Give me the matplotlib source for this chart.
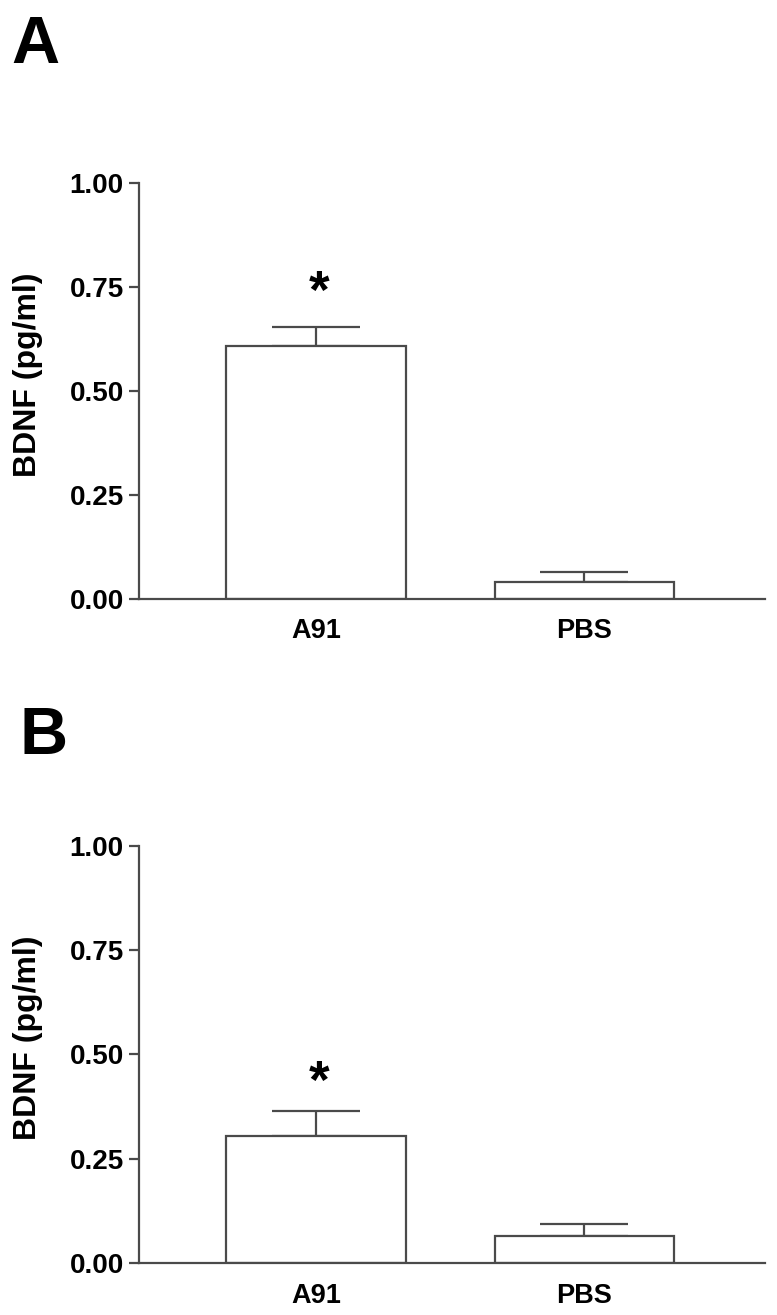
import numpy as np
import matplotlib.pyplot as plt

plt.rcParams['font.family'] = ['Liberation Sans', 'DejaVu Sans']
plt.rcParams['font.weight'] = 'bold'

groups = ['A91', 'PBS']
mean_a = [0.608, 0.040]
sem_a = [0.046, 0.024]
mean_b = [0.305, 0.065]
sem_b = [0.060, 0.029]
yticks = [0.00, 0.25, 0.50, 0.75, 1.00]
star_a = 0.733
star_b = 0.429

line_col = '#4a4a4a'

fig = plt.figure(figsize=(7.77, 13.15), dpi=100)
axA = fig.add_axes([0.1789, 0.5445, 0.8057, 0.3163])
axB = fig.add_axes([0.1789, 0.0395, 0.8057, 0.3172])


def panel(ax, means, sems, star_y):
    x = np.arange(len(groups))
    ax.bar(x, means, width=0.668, color='white', edgecolor=line_col, linewidth=1.6, zorder=2)
    ax.errorbar(x, means, yerr=[np.zeros(len(sems)), sems], fmt='none',
                ecolor=line_col, elinewidth=1.6, capsize=32, capthick=1.6, zorder=1)
    ax.text(0.01, star_y, '*', ha='center', va='center', fontsize=38, fontweight='bold')
    ax.set_xlim(-0.66, 1.675)
    ax.set_ylim(0, 1.0)
    ax.set_yticks(yticks)
    ax.set_yticklabels([f'{t:.2f}' for t in yticks])
    ax.set_xticks(x)
    ax.set_xticklabels(groups)
    ax.spines['top'].set_visible(False)
    ax.spines['right'].set_visible(False)
    for s in ['left', 'bottom']:
        ax.spines[s].set_color(line_col)
        ax.spines[s].set_linewidth(1.6)
    ax.tick_params(axis='y', length=7, width=1.6, color=line_col, labelsize=20, pad=4)
    ax.tick_params(axis='x', length=0, labelsize=19.5, pad=14)
    ax.set_ylabel('BDNF (pg/ml)', fontsize=23, fontweight='bold')
    ax.yaxis.set_label_coords(-0.153, 0.54)


panel(axA, mean_a, sem_a, star_a)
panel(axB, mean_b, sem_b, star_b)

fig.text(0.015, 0.965, 'A', fontsize=48, fontweight='bold', va='center')
fig.text(0.025, 0.4395, 'B', fontsize=48, fontweight='bold', va='center')

fig.savefig('out.png', dpi=100)
